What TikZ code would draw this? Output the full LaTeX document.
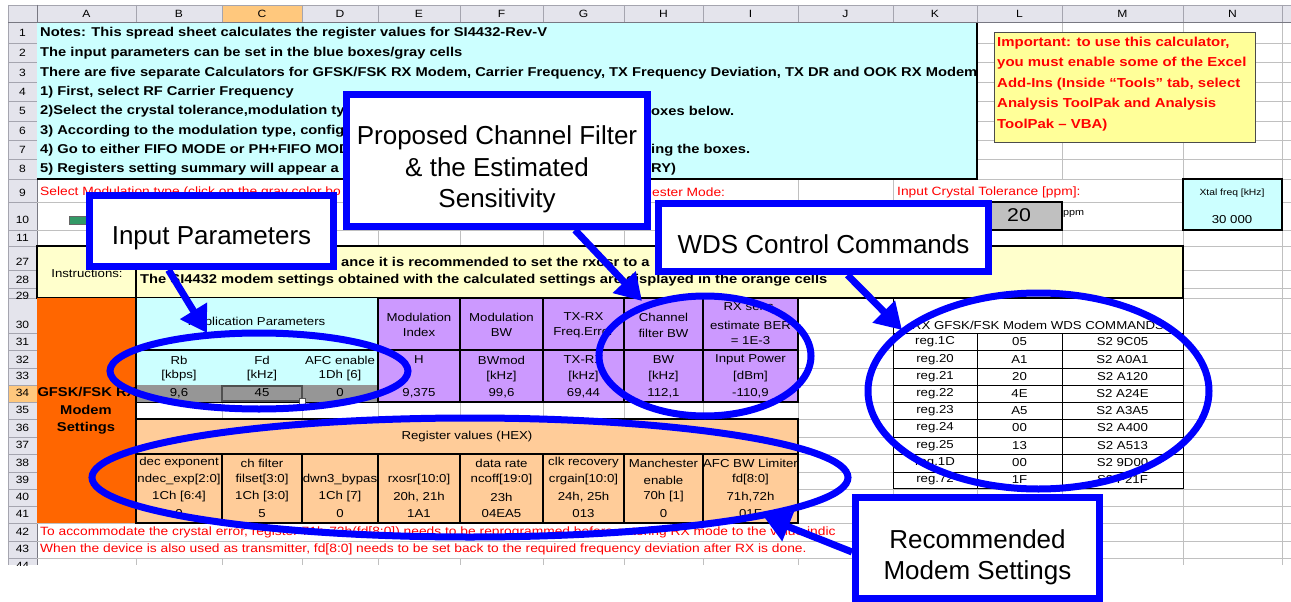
\documentclass[tikz,border=0pt]{standalone}
\usepackage{fontspec}
\setmainfont{Liberation Sans}
\newfontfamily\xl[FakeStretch=1.15]{Liberation Sans}
\usepackage{tikz}
\usetikzlibrary{positioning}
\usetikzlibrary{arrows.meta}
\pgfdeclarelayer{sheet}
\pgfdeclarelayer{marks}
\pgfsetlayers{sheet,marks,main}

\definecolor{hdrfill}{RGB}{228,228,236}
\definecolor{hdrgrid}{RGB}{165,165,175}
\definecolor{hdrdark}{RGB}{120,120,130}
\definecolor{gridgray}{RGB}{192,192,192}
\definecolor{notecyan}{RGB}{204,255,255}
\definecolor{instyellow}{RGB}{255,255,204}
\definecolor{warnyellow}{RGB}{255,255,153}
\definecolor{modemorange}{RGB}{255,102,0}
\definecolor{regorange}{RGB}{255,204,153}
\definecolor{calcpurple}{RGB}{204,153,255}
\definecolor{inputgray}{RGB}{150,150,150}
\definecolor{tolgray}{RGB}{192,192,192}
\definecolor{selorange}{RGB}{255,200,125}
\definecolor{selgray}{RGB}{80,80,80}
\definecolor{btngreen}{RGB}{51,153,102}
\definecolor{warnred}{RGB}{255,0,0}
\definecolor{callblue}{RGB}{0,0,255}

\newcommand{\lift}[1]{\rule{0pt}{#1}}

\tikzset{
  gridline/.style={draw=gridgray, line width=0.8pt},
  hdrline/.style={draw=hdrgrid, line width=0.8pt},
  hdredge/.style={draw=hdrdark, line width=1pt},
  thickline/.style={draw=black, line width=2pt},
  thinline/.style={draw=black, line width=1pt},
  hdrtext/.style={font=\xl\fontsize{10.5}{12}\selectfont, inner sep=0pt},
  notetext/.style={font=\xl\bfseries\fontsize{12.8}{15}\selectfont, anchor=west, inner sep=0pt},
  celltext/.style={font=\xl\fontsize{11.5}{13}\selectfont, inner sep=0pt},
  redtext/.style={font=\xl\fontsize{12}{13}\selectfont, text=warnred, anchor=west, inner sep=0pt},
  warntext/.style={font=\xl\bfseries\fontsize{13}{15}\selectfont, text=warnred, anchor=west, inner sep=0pt},
  callout/.style={draw=callblue, line width=7pt, fill=white, inner sep=0pt, align=center,
    font=\fontsize{26}{31.5}\selectfont},
  callarrow/.style={draw=callblue, line width=7pt, -{Triangle[length=26pt,width=30pt]}},
  ring/.style={draw=callblue, line width=7pt},
}

\begin{document}
\begin{tikzpicture}[x=1pt,y=-1pt]
\useasboundingbox (0,0) rectangle (1291,602);

\begin{pgfonlayer}{sheet}
%Headers
\fill[white] (0,0) rectangle (1291,602);
\fill[hdrfill] (8,5) rectangle (1291,23);
\fill[hdrfill] (8,23) rectangle (37,565);
\fill[selorange] (222,5) rectangle (302,23);
\fill[selorange] (8,385) rectangle (37,402);
\foreach \x in {37,136,222,302,378,460,543,624,703,798,893,977,1062,1183,1282}
  \draw[hdrline] (\x,5) -- (\x,23);
\foreach \y in {43,62,82,101,121,140,159,179,202,230,246,270,288,298,333,350,368,385,402,419,437,454,472,489,506,523,541,558}
  \draw[hdrline] (8,\y) -- (37,\y);
\draw[hdrline] (8,5) -- (1291,5);
\draw[hdrline] (8,5) -- (8,565);
\draw[hdredge] (8,23) -- (1291,23);
\draw[hdredge] (37,5) -- (37,565);
\foreach \c/\cx in {A/86.5,B/179,C/262,D/340,E/419,F/501.5,G/583.5,H/663.5,I/750.5,J/845.5,K/935,L/1019.5,M/1122.5,N/1232.5}
  \node[hdrtext] (col\c) at (\cx,14) {\c};
\foreach \r/\yy in {1/33,2/53,3/73,4/92,5/111,6/131,7/150,8/169,9/193,10/220,11/238,27/262,28/280,30/325,31/342,32/360,33/376,34/393,35/410,36/428,37/445,38/463,39/480,40/497,41/514,42/532,43/549}
  \node[hdrtext] (row\r) at (22.5,\yy) {\r};
\begin{scope}
  \clip (8,288) rectangle (37,298);
  \node[hdrtext] (row29) at (22.5,296) {29};
\end{scope}
\begin{scope}
  \clip (8,558) rectangle (37,565);
  \node[hdrtext] (row44) at (22.5,566) {44};
\end{scope}

%Grid
\foreach \x in {136,222,302,378,460,543,624,703,798,893,977,1062,1183,1282}
  \draw[gridline] (\x,23) -- (\x,565);
\foreach \y in {43,62,82,101,121,140,159,179,202,230,246,270,288,298,333,350,368,385,402,419,437,454,472,489,506,523,541,558}
  \draw[gridline] (37,\y) -- (1291,\y);
\fill[white] (37.5,179.5) rectangle (797.5,201.5);
\fill[white] (893.5,179.5) rectangle (1182.5,201.5);
\fill[white] (37.5,523.5) rectangle (892.5,540.5);
\fill[white] (37.5,541.5) rectangle (892.5,557.5);

%Blocks
\fill[notecyan] (37,23) rectangle (977,179);
\draw[thickline] (977,23) -- (977,179) -- (37,179);
\fill[instyellow] (37,246) rectangle (1183,298);
\draw[thickline] (37,246) rectangle (1183,298);
\draw[thickline] (136,246) -- (136,298);
\fill[modemorange] (37,298) rectangle (136,523);
\fill[notecyan] (136,298) rectangle (378,385);
\fill[inputgray] (136,385) rectangle (378,402);
\draw[thinline] (136,402) -- (378,402);
\draw[thickline] (136,298) -- (136,523);
\draw[thickline] (136,350) -- (378,350);
\fill[calcpurple] (378,298) rectangle (798,402);
\foreach \xa/\xb in {378/460,460/543,543/624,624/703,703/798}
  {\draw[thickline] (\xa,298) rectangle (\xb,350);
   \draw[thickline] (\xa,350) rectangle (\xb,402);}
\fill[regorange] (136,419) rectangle (798,523);
\draw[thickline] (136,419) rectangle (798,454);
\foreach \xa/\xb in {136/222,222/302,302/378,378/460,460/543,543/624,624/703,703/798}
  \draw[thickline] (\xa,454) rectangle (\xb,523);
\draw[line width=2pt, draw=selgray] (222,385.5) rectangle (302,401);
\filldraw[fill=white, draw=selgray, line width=0.8pt] (299,398) rectangle (305,404);
\fill[white] (893,298) rectangle (1183,488);
\draw[thinline] (893,298) rectangle (1183,488);
\foreach \y in {333,350,368,385,402,419,437,454,472}
  \draw[thinline] (893,\y) -- (1183,\y);
\foreach \x in {977,1062}
  \draw[thinline] (\x,333) -- (\x,488);
\filldraw[fill=warnyellow, draw=black!70, line width=1pt] (994,33) rectangle (1255,142);
\filldraw[fill=tolgray, thickline] (977,202) rectangle (1062,230);
\filldraw[fill=notecyan, thickline] (1183,179) rectangle (1282,230);
\filldraw[fill=btngreen, draw=black!60, line width=0.8pt] (69,216) rectangle (87,224);

%Notes
\node[notetext] (note1) at (40,33) {Notes: This spread sheet calculates the register values for SI4432-Rev-V};
\node[notetext] (note2) at (40,53) {The input parameters can be set in the blue boxes/gray cells};
\node[notetext] (note3) at (40,73) {There are five separate Calculators for GFSK/FSK RX Modem, Carrier Frequency, TX Frequency Deviation, TX DR and OOK RX Modem};
\node[notetext] (note4) at (40,92) {1) First, select RF Carrier Frequency};
\node[notetext] (note5) at (40,111) {2)Select the crystal tolerance,modulation ty};
\node[notetext] (note5b) at (651,111) {oxes below.};
\node[notetext] (note6) at (40,131) {3) According to the modulation type, configu};
\node[notetext] (note7) at (40,150) {4) Go to either FIFO MODE or PH+FIFO MODE s};
\node[notetext] (note7b) at (651,150) {ing the boxes.};
\node[notetext] (note8) at (40,169) {5) Registers setting summary will appear a};
\node[notetext] (note8b) at (651,169) {RY)};
\foreach \i/\t/\yy in {1/{Important: to use this calculator,}/43,2/{you must enable some of the Excel}/63,3/{Add-Ins (Inside “Tools” tab, select}/84,4/{Analysis ToolPak and Analysis}/104,5/{ToolPak – VBA)}/125}
  \node[warntext] (warn\i) at (997,\yy) {\t};

%Rows 9 to 11
\node[redtext] (selmod) at (40,192) {Select Modulation type (click on the gray color bo};
\node[redtext] (tester) at (652,192) {ester Mode:};
\node[redtext] (xtaltol) at (897,192) {Input Crystal Tolerance [ppm]:};
\node[font=\xl\fontsize{18.5}{20}\selectfont, inner sep=0pt] (tolval) at (1019,215) {20};
\node[font=\xl\fontsize{9.4}{11}\selectfont, anchor=west, inner sep=0pt] (tolunit) at (1063,214) {ppm};
\node[font=\xl\fontsize{9}{11}\selectfont, inner sep=0pt] (xtalhead) at (1232,193) {Xtal freq [kHz]};
\node[celltext] (xtalval) at (1232,220) {30 000};

%Instructions
\node[celltext] (instr) at (87,273) {Instructions:};
\node[notetext] (instr27) at (341,262) {ance it is recommended to set the rxosr to a};
\node[notetext] (instr28) at (140,280) {The SI4432 modem settings obtained with the calculated settings are displayed in the orange cells};

%Modem block
\node[notetext, anchor=center] (modem1) at (87,392) {GFSK/FSK RX};
\node[notetext, anchor=center] (modem2) at (86,410) {Modem};
\node[notetext, anchor=center] (modem3) at (86,428) {Settings};
\node[celltext] (apphead) at (257,323) {Application Parameters};
\foreach \c/\cx/\ta/\tb/\tv in {B/179/Rb/[kbps]/{9,6},C/262/Fd/[kHz]/45,D/340/AFC enable/1Dh [6]/0}
  {\node[celltext] (app\c a) at (\cx,360) {\ta};
   \node[celltext] (app\c b) at (\cx,376) {\tb};
   \node[celltext] (app\c v) at (\cx,393) {\tv};}
\node[celltext] (modEa) at (419,317) {Modulation};
\node[celltext] (modEb) at (419,332) {Index};
\node[celltext] (modFa) at (501.5,317) {Modulation};
\node[celltext] (modFb) at (501.5,333) {BW};
\node[celltext] (modGa) at (583.5,317) {TX-RX};
\node[celltext] (modGb) at (583.5,333) {Freq.Error};
\node[celltext] (modHa) at (663.5,317) {Channel};
\node[celltext] (modHb) at (663.5,333) {filter BW};
\node[celltext] (modIa) at (750.5,307) {RX sens.};
\node[celltext] (modIb) at (750.5,325) {estimate BER};
\node[celltext] (modIc) at (750.5,341) {= 1E-3};
\node[celltext] (valE1) at (419,360) {H};
\node[celltext] (valE3) at (419,393) {9,375};
\foreach \c/\cx/\ta/\tb/\tv in {F/501.5/BWmod/[kHz]/{99,6},G/583.5/TX-RX/[kHz]/{69,44},H/663.5/BW/[kHz]/{112,1},I/750.5/Input Power/[dBm]/{-110,9}}
  {\node[celltext] (val\c 1) at (\cx,360) {\ta};
   \node[celltext] (val\c 2) at (\cx,377) {\tb};
   \node[celltext] (val\c 3) at (\cx,393) {\tv};}

%Register values
\node[celltext] (reghead) at (467,437) {Register values (HEX)};
\foreach \c/\cx/\ta in {B/179/dec exponent,C/262/ch filter,F/501.5/data rate,G/583.5/clk recovery,H/663.5/Manchester,I/750.5/AFC BW Limiter}
  \node[celltext] (reg\c 1) at (\cx,463) {\ta};
\foreach \c/\cx/\tb/\tc/\td in {B/179/ndec\_exp[2:0]/1Ch [6:4]/0,C/262/filset[3:0]/1Ch [3:0]/5,D/340/dwn3\_bypas/1Ch [7]/0,E/419/rxosr[10:0]/{20h, 21h}/1A1,F/501.5/ncoff[19:0]/23h/04EA5,G/583.5/crgain[10:0]/{24h, 25h}/013,H/663.5/enable/70h [1]/0,I/750.5/fd[8:0]/{71h,72h}/01F}
  {\node[celltext] (reg\c 2) at (\cx,480) {\tb};
   \node[celltext] (reg\c 3) at (\cx,497) {\tc};
   \node[celltext] (reg\c 4) at (\cx,514) {\td};}
\node[redtext] (note42) at (40,532) {To accommodate the crystal error, register 71h-72h(fd[8:0]) needs to be reprogrammed before entering RX mode to the value indic};
\node[redtext] (note43) at (40,549) {When the device is also used as transmitter, fd[8:0] needs to be set back to the required frequency deviation after RX is done.};

%WDS commands
\node[celltext] (wdshead) at (1038,325) {RX GFSK/FSK Modem WDS COMMANDS};
\foreach \r/\yy/\ra/\rb/\rc in {1/342/reg.1C/05/S2 9C05,2/359.5/reg.20/A1/S2 A0A1,3/376.5/reg.21/20/S2 A120,4/393.5/reg.22/4E/S2 A24E,5/410.5/reg.23/A5/S2 A3A5,6/428/reg.24/00/S2 A400,7/445.5/reg.25/13/S2 A513,8/463/reg.1D/00/S2 9D00,9/480/reg.72/1F/S2 F21F}
  {\node[celltext] (wds\r a) at (935,\yy) {\ra};
   \node[celltext] (wds\r b) at (1019.5,\yy) {\rb};
   \node[celltext] (wds\r c) at (1122.5,\yy) {\rc};}
\end{pgfonlayer}

%Callouts
\node[callout, minimum width=244pt, minimum height=71pt] (inpar) at (211.5,231) {\lift{33pt}Input Parameters};
\node[callout, minimum width=301pt, minimum height=132pt] (chfilt) at (497,160.5) {\lift{37pt}Proposed Channel Filter\\ \& the Estimated\\ Sensitivity};
\node[callout, minimum width=330pt, minimum height=68pt] (wds) at (823.5,237.5) {\lift{31.5pt}WDS Control Commands};
\node[callout, minimum width=244pt, minimum height=101pt] (recom) at (977.5,548) {\lift{37.7pt}Recommended\\ Modem Settings};

\coordinate (inpartip) at (207,333);
\coordinate (chfilttip) at (642,301);
\coordinate (wdstip) at (902,330);
\coordinate (recomtip) at (764,517);

\begin{pgfonlayer}{marks}
%Rings
\draw[ring] (259,371) ellipse [x radius=149, y radius=38];
\draw[ring] (705,356) ellipse [x radius=106, y radius=60];
\draw[ring] (470,477.5) ellipse [x radius=378, y radius=59.5];
\draw[ring] (1038.5,391) ellipse [x radius=170.5, y radius=98];
%Arrows
\draw[callarrow] ([xshift=-43pt]inpar.south) -- (inpartip);
\draw[callarrow] ([xshift=78pt]chfilt.south) -- (chfilttip);
\draw[callarrow] ([xshift=24pt]wds.south) -- (wdstip);
\draw[callarrow] ([yshift=-4pt]recom.west) -- (recomtip);
\end{pgfonlayer}
\end{tikzpicture}
\end{document}
